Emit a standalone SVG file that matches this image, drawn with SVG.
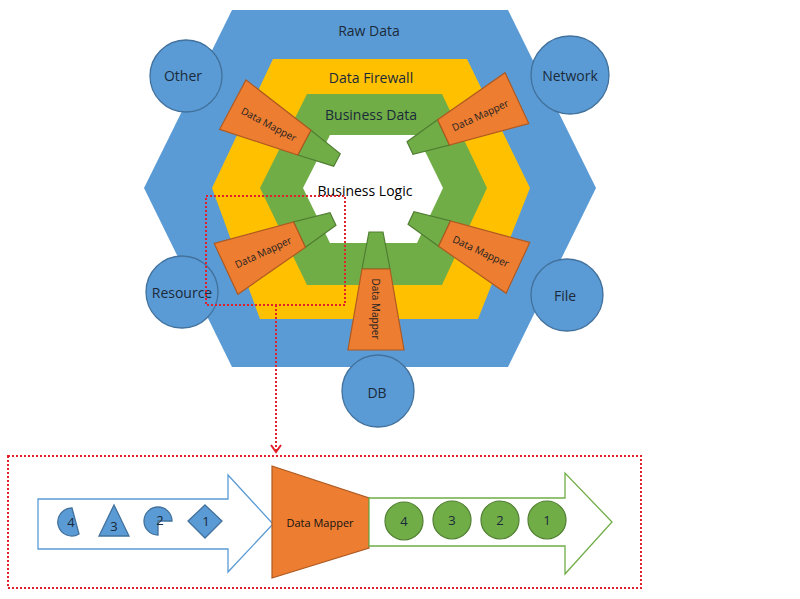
<svg xmlns="http://www.w3.org/2000/svg" width="800" height="599" viewBox="0 0 800 599">
<defs>
<style>
text{font-family:"Open Sans","Liberation Sans",sans-serif;text-anchor:middle;dominant-baseline:central}
.lbl{font-size:14px;fill:#1a2a3a}
.circ{fill:#5b9bd5;stroke:#41719c;stroke-width:1.3}
.org{fill:#ed7d31;stroke:#ae5a21;stroke-width:1.2}
.grn{fill:#70ad47;stroke:#507e32;stroke-width:1.2}
.dm{font-size:10px;fill:#222}
.red{fill:none;stroke:#e0202a;stroke-width:2;stroke-dasharray:2 2}
.num{font-size:13px;fill:#1a2a3a}
</style>
<g id="mapper">
<polygon class="grn" points="-7,0 7,0 14,37 -14,37"/>
<polygon class="org" points="-14,37 14,37 28,118 -28,118"/>
</g>
<marker id="ah" markerWidth="14" markerHeight="14" refX="10" refY="6" orient="auto" markerUnits="userSpaceOnUse"><path d="M3,1 L10,6 L3,11" fill="none" stroke="#e0202a" stroke-width="2"/></marker>
</defs>
<rect width="800" height="599" fill="#fff"/>
<g id="raw"><polygon points="232,10 508,10 596,188 508,367 232,367 144,188" fill="#5b9bd5"/><text class="lbl" x="369" y="30">Raw Data</text></g>
<g id="firewall"><polygon points="273,59 467,59 530,188 478,319 260,319 212,188" fill="#ffc000"/><text class="lbl" x="371" y="77">Data Firewall</text></g>
<g id="bdata"><polygon points="307,94 442,94 487,188 442,285 307,285 260,188" fill="#70ad47"/><text class="lbl" x="371" y="114">Business Data</text></g>
<g id="blogic"><polygon points="330,135 417,135 443,188 417,243 330,243 303,188" fill="#fff"/><text class="lbl" x="365" y="190" style="fill:#000">Business Logic</text></g>
<g id="other"><circle class="circ" cx="186" cy="76" r="36"/><text class="lbl" x="183" y="75">Other</text></g>
<g id="network"><circle class="circ" cx="570" cy="75" r="39"/><text class="lbl" x="570" y="75">Network</text></g>
<g id="resource"><circle class="circ" cx="182" cy="292" r="36"/><text class="lbl" x="182" y="292">Resource</text></g>
<g id="file"><circle class="circ" cx="567" cy="295" r="36"/><text class="lbl" x="565" y="295">File</text></g>
<g id="db"><circle class="circ" cx="378" cy="391" r="36"/><text class="lbl" x="377" y="392">DB</text></g>
<g id="mapper-ul"><use href="#mapper" transform="translate(337,160) rotate(118)"/><text class="dm" transform="translate(269,124) rotate(28)">Data Mapper</text></g>
<g id="mapper-ur"><use href="#mapper" transform="translate(410,148) rotate(-115)"/><text class="dm" transform="translate(480,115) rotate(-25)">Data Mapper</text></g>
<g id="mapper-ll"><use href="#mapper" transform="translate(333,219) rotate(65)"/><text class="dm" transform="translate(263,252) rotate(-25)">Data Mapper</text></g>
<g id="mapper-lr"><use href="#mapper" transform="translate(411,218) rotate(-65)"/><text class="dm" transform="translate(481,251) rotate(25)">Data Mapper</text></g>
<g id="mapper-b"><use href="#mapper" transform="translate(376,232)"/><text class="dm" transform="translate(376,309) rotate(90)">Data Mapper</text></g>
<g id="connectors">
<rect class="red" x="206" y="196" width="139" height="109"/>
<line class="red" x1="276" y1="305" x2="276" y2="452" marker-end="url(#ah)"/>
<rect class="red" x="8" y="456" width="633" height="132"/>
</g>
<g id="in-arrow"><polygon points="38,499 228,499 228,475 273,524 228,572 228,549 38,549" fill="#fff" stroke="#5b9bd5" stroke-width="1.3"/>
<path class="circ" d="M79,534 A14,14 0 1 1 72,508 Z"/><text class="num" x="71" y="522">4</text>
<polygon class="circ" points="114,505 129,536 99,536"/><text class="num" x="114" y="526">3</text>
<path class="circ" d="M158,521 L158,535 A14,14 0 1 1 172,521 Z"/><text class="num" x="160" y="520">2</text>
<polygon class="circ" points="205,505 222,521 205,538 188,521"/><text class="num" x="206" y="521">1</text>
</g>
<g id="dm-big"><polygon class="org" points="272,466 369,498 369,548 272,578"/><text x="320" y="522" style="font-size:11px;fill:#111">Data Mapper</text></g>
<g id="out-arrow"><polygon points="369,498 565,498 565,473 612,522 565,574 565,546 369,546" fill="#fff" stroke="#70ad47" stroke-width="1.3"/>
<circle class="grn" cx="404" cy="521" r="19"/><text class="num" x="404" y="521">4</text>
<circle class="grn" cx="452" cy="520" r="19"/><text class="num" x="452" y="520">3</text>
<circle class="grn" cx="500" cy="520" r="19"/><text class="num" x="500" y="520">2</text>
<circle class="grn" cx="547" cy="520" r="19"/><text class="num" x="547" y="520">1</text>
</g>
</svg>
